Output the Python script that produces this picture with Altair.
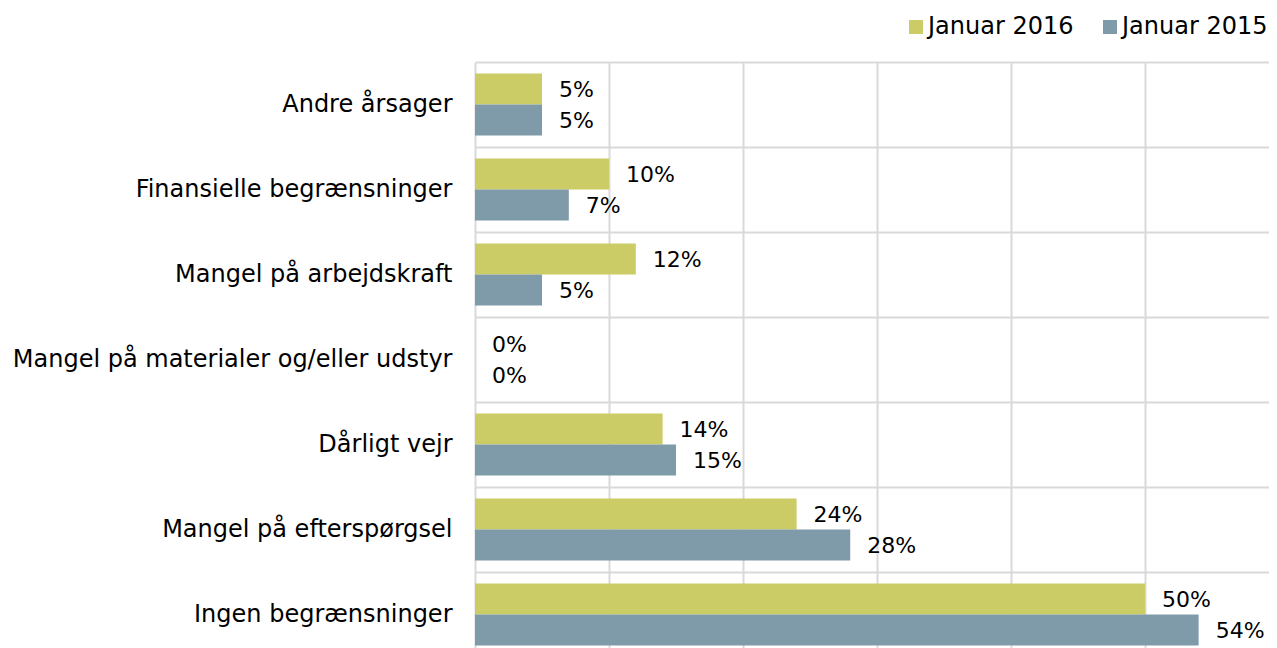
import altair as alt
import pandas as pd

categories = [
    "Andre årsager",
    "Finansielle begrænsninger",
    "Mangel på arbejdskraft",
    "Mangel på materialer og/eller udstyr",
    "Dårligt vejr",
    "Mangel på efterspørgsel",
    "Ingen begrænsninger",
]
series = ["Januar 2016", "Januar 2015"]
values_2016 = [5, 10, 12, 0, 14, 24, 50]
values_2015 = [5, 7, 5, 0, 15, 28, 54]
colors = ["#cccc66", "#7f9aa8"]
x_ticks = [0, 10, 20, 30, 40, 50]

rows = []
for c, v in zip(categories, values_2016):
    rows.append({"cat": c, "series": series[0], "value": v})
for c, v in zip(categories, values_2015):
    rows.append({"cat": c, "series": series[1], "value": v})
df = pd.DataFrame(rows)
df["label"] = df["value"].astype(str) + "%"

FONT = "DejaVu Sans"

y_enc = alt.Y(
    "cat:N",
    sort=categories,
    scale=alt.Scale(paddingInner=0, paddingOuter=0),
    axis=alt.Axis(
        title=None,
        ticks=False,
        domain=False,
        grid=True,
        tickBand="extent",
        gridColor="#d9d9d9",
        gridWidth=2,
        labelFont=FONT,
        labelFontSize=24,
        labelColor="#000000",
        labelPadding=23,
        labelLimit=600,
    ),
)
yoff_enc = alt.YOffset(
    "series:N",
    sort=series,
    scale=alt.Scale(domain=series, paddingInner=0, paddingOuter=0.371),
)
x_enc = alt.X(
    "value:Q",
    scale=alt.Scale(domain=[0, 59.25], nice=False, zero=True),
    axis=alt.Axis(
        title=None,
        values=x_ticks,
        labels=False,
        ticks=False,
        domain=False,
        grid=True,
        gridColor="#d9d9d9",
        gridWidth=2,
    ),
)

base = alt.Chart(df).encode(y=y_enc, yOffset=yoff_enc, x=x_enc)

bars = base.mark_bar(strokeWidth=0).encode(
    color=alt.Color(
        "series:N",
        scale=alt.Scale(domain=series, range=colors),
        legend=alt.Legend(
            title=None,
            orient="none",
            direction="horizontal",
            legendX=429,
            legendY=-47,
            symbolType="square",
            symbolSize=196,
            symbolStrokeWidth=0,
            labelFont=FONT,
            labelFontSize=24,
            labelColor="#000000",
            labelOffset=0,
            columnPadding=24,
        ),
    )
)

text = base.mark_text(
    align="left", baseline="middle", dx=17, dy=1, font=FONT, fontSize=22, color="#000000"
).encode(text="label:N")

chart = (
    alt.layer(bars, text)
    .properties(
        width=794,
        height=595,
        autosize="none",
        padding={"left": 467, "top": 54, "right": 0, "bottom": 0},
    )
    .configure_view(stroke=None)
)

chart.save("out.html", embed_options={"renderer": "svg", "actions": False})
